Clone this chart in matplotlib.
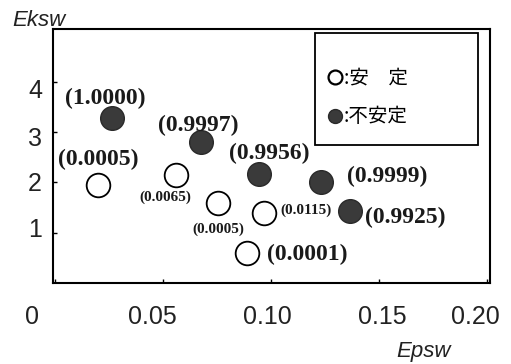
import matplotlib
matplotlib.use("Agg")
import matplotlib.pyplot as plt
from matplotlib.lines import Line2D
from matplotlib.patches import Rectangle
from matplotlib.transforms import ScaledTranslation

# Data
stable_x = [0.0199, 0.0560, 0.0755, 0.0889, 0.0968]
stable_y = [1.95, 2.15, 1.59, 0.60, 1.39]
stable_lbl = ["(0.0005)", "(0.0065)", "(0.0005)", "(0.0001)", "(0.0115)"]

unstable_x = [0.0264, 0.0676, 0.0944, 0.1230, 0.1366]
unstable_y = [3.28, 2.80, 2.17, 2.01, 1.43]
unstable_lbl = ["(1.0000)", "(0.9997)", "(0.9956)", "(0.9999)", "(0.9925)"]

xticks = [0, 0.05, 0.10, 0.15, 0.20]
xtick_labels = ["0", "0.05", "0.10", "0.15", "0.20"]
yticks = [1, 2, 3, 4]
ytick_labels = ["1", "2", "3", "4"]

legend_labels = [":安\u3000定", ":不安定"]

fig = plt.figure(figsize=(5.11, 3.64), dpi=100)
ax = fig.add_axes([53/511, 1-283/364, (490-53)/511, (283-29)/364])
ax.set_xlim(-0.0009, 0.2014)
ax.set_ylim(0, 5.05)

ms = 290
ax.scatter(stable_x, stable_y, s=ms, facecolors="white", edgecolors="black", linewidths=1.3, zorder=3)
ax.scatter(unstable_x, unstable_y, s=ms, facecolors="#3a3a3a", edgecolors="#2a2a2a", linewidths=1.0, zorder=3)

serif = ["Liberation Serif", "DejaVu Serif"]
big = 17
small = 11
s_off = [((0, 25), big), ((-11, -22), small), ((0, -26), small), ((60, -2), big), ((42, 3), small)]
u_off = [((-7, 20), big), ((-3, 17), big), ((10, 20), big), ((67, 5), big), ((55, -6), big)]

def put(xs, ys, lbls, offs):
    for x, y, t, ((dx, dy), fs) in zip(xs, ys, lbls, offs):
        ax.annotate(t, (x, y), xytext=(dx * 0.72, dy * 0.72), textcoords="offset points",
                    ha="center", va="center", fontsize=fs, fontweight="bold",
                    family=serif, color="#1a1a1a", zorder=4)

put(stable_x, stable_y, stable_lbl, s_off)
put(unstable_x, unstable_y, unstable_lbl, u_off)

for sp in ax.spines.values():
    sp.set_linewidth(1.5)
    sp.set_color("black")

sans = ["Liberation Sans", "DejaVu Sans"]
ax.set_xticks(xticks)
ax.set_xticklabels(xtick_labels, family=sans, fontsize=18, color="#222222")
ax.set_yticks(yticks)
ax.set_yticklabels(ytick_labels, family=sans, fontsize=18, color="#222222")
ax.tick_params(axis="both", direction="in", length=3, width=1)
ax.tick_params(axis="x", pad=16)
ax.tick_params(axis="y", pad=8)

xoffs = [-23, -11, -4, 3, -12]
for lab, dx in zip(ax.get_xticklabels(), xoffs):
    lab.set_transform(lab.get_transform() + ScaledTranslation(dx / 100, 0, fig.dpi_scale_trans))
yoffs = [5, 1, -4, -7]
for lab, dy in zip(ax.get_yticklabels(), yoffs):
    lab.set_transform(lab.get_transform() + ScaledTranslation(0, dy / 100, fig.dpi_scale_trans))

fig.text(12/511, 1-20/364, "Eksw", family=sans, style="italic", fontsize=16,
         ha="left", va="center", color="#222222")
fig.text(424/511, 1-352/364, "Epsw", family=sans, style="italic", fontsize=16,
         ha="center", va="center", color="#222222")

# legend frame
lx0, lx1, ly0, ly1 = 315, 478, 33, 145
ax.add_patch(Rectangle((lx0/511, 1-ly1/364), (lx1-lx0)/511, (ly1-ly0)/364,
                       transform=fig.transFigure, facecolor="white", clip_on=False,
                       edgecolor="black", linewidth=1.3, zorder=5))

cjk = ["Noto Sans CJK JP", "DejaVu Sans"]
handles = [
    Line2D([], [], linestyle="none", marker="o", markersize=10, markerfacecolor="white",
           markeredgecolor="black", markeredgewidth=1.6),
    Line2D([], [], linestyle="none", marker="o", markersize=10, markerfacecolor="#3a3a3a",
           markeredgecolor="#2a2a2a"),
]
leg = ax.legend(handles, legend_labels, loc="upper left",
                bbox_to_anchor=(328/511, 1-68/364),
                bbox_transform=fig.transFigure,
                prop={"family": cjk, "size": 14}, frameon=False,
                handlelength=0.7, handletextpad=0.1,
                borderpad=0, labelspacing=0.9, borderaxespad=0)
leg.set_zorder(6)

fig.savefig("out.png", dpi=100)
